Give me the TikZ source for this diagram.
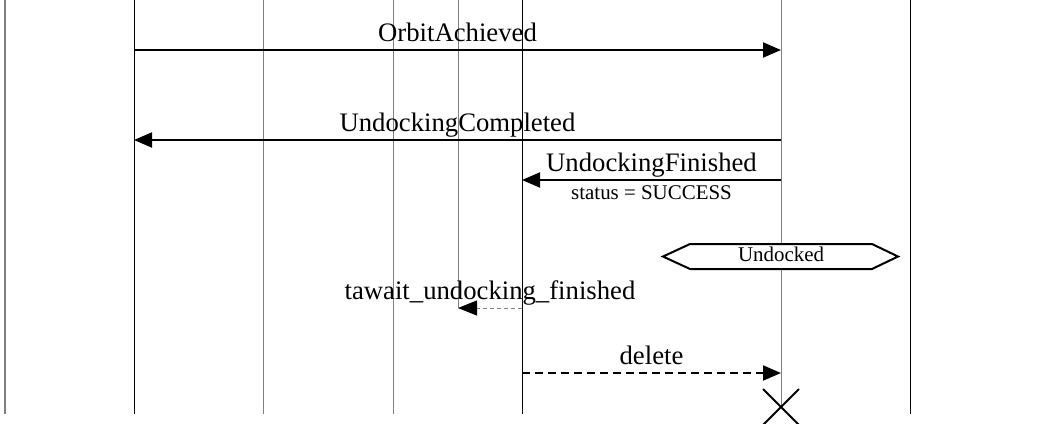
\documentclass[tikz,border=0pt]{standalone}
\usepackage{fontspec}
\setmainfont{Liberation Serif}
\usetikzlibrary{arrows.meta}
\begin{document}
\begin{tikzpicture}[x=1bp,y=-1bp,
  lifeblack/.style={line width=1bp,black},
  lifegray/.style={line width=1bp,gray},
  msg/.style={line width=2bp,-{Triangle[length=18bp,width=15bp]}},
  msgdel/.style={msg,dash pattern=on 8bp off 5bp},
  msgret/.style={line width=1bp,gray,dash pattern=on 4bp off 3bp,
    -{Triangle[length=19bp,width=15bp,color=black]}},
  biglabel/.style={anchor=base,inner sep=0pt,font=\fontsize{26.8}{30}\selectfont},
  smalllabel/.style={anchor=base,inner sep=0pt,font=\fontsize{21}{24}\selectfont},
  statebox/.style={line width=2bp,fill=white}]
\useasboundingbox (0,0) rectangle (1038,423);

% lifeline tops and bottoms
\foreach \n/\x in {a/5,b/134,c/263,d/393,e/458,f/522,g/781,h/910}{
  \coordinate (top-\n) at (\x,0);
  \coordinate (bot-\n) at (\x,414);
}
\coordinate (end-e) at (458,308);
\coordinate (end-g) at (781,407);

% lifelines
\draw[gray,line width=2bp] (top-a) -- (bot-a);
\draw[lifeblack] (top-b) -- (bot-b);
\draw[lifegray] (top-c) -- (bot-c);
\draw[lifegray] (top-d) -- (bot-d);
\draw[lifegray] (top-e) -- (end-e);
\draw[lifeblack] (top-f) -- (bot-f);
\draw[lifegray] (top-g) -- (end-g);
\draw[lifeblack] (top-h) -- (bot-h);

% message end points
\coordinate (m1s) at (134,50);  \coordinate (m1e) at (781,50);
\coordinate (m2s) at (781,140); \coordinate (m2e) at (134,140);
\coordinate (m3s) at (781,180); \coordinate (m3e) at (522,180);
\coordinate (m4s) at (522,308); \coordinate (m4e) at (458,308);
\coordinate (m5s) at (522,373); \coordinate (m5e) at (781,373);

% messages
\draw[msg] (m1s) -- (m1e);
\node[biglabel] (l1) at (457.5,41.5) {OrbitAchieved};
\draw[msg] (m2s) -- (m2e);
\node[biglabel] (l2) at (457.5,131.5) {UndockingCompleted};
\draw[msg] (m3s) -- (m3e);
\node[biglabel] (l3) at (651.5,171.5) {UndockingFinished};
\node[smalllabel] (l3b) at (651.5,199.5) {status = SUCCESS};

% state invariant
\draw[statebox] (663,256.5) -- (690,244) -- (872,244) -- (898,256.5)
  -- (872,269) -- (690,269) -- cycle;
\node[smalllabel] (st) at (781,261.7) {Undocked};

\draw[msgret] (m4s) -- (m4e);
\node[biglabel] (l4) at (490,299.3) {tawait\_undocking\_finished};
\draw[msgdel] (m5s) -- (m5e);
\node[biglabel] (l5) at (651.5,364) {delete};

% destruction mark
\draw[line width=2bp] (763,389) -- (799,425) (799,389) -- (763,425);
\end{tikzpicture}
\end{document}
